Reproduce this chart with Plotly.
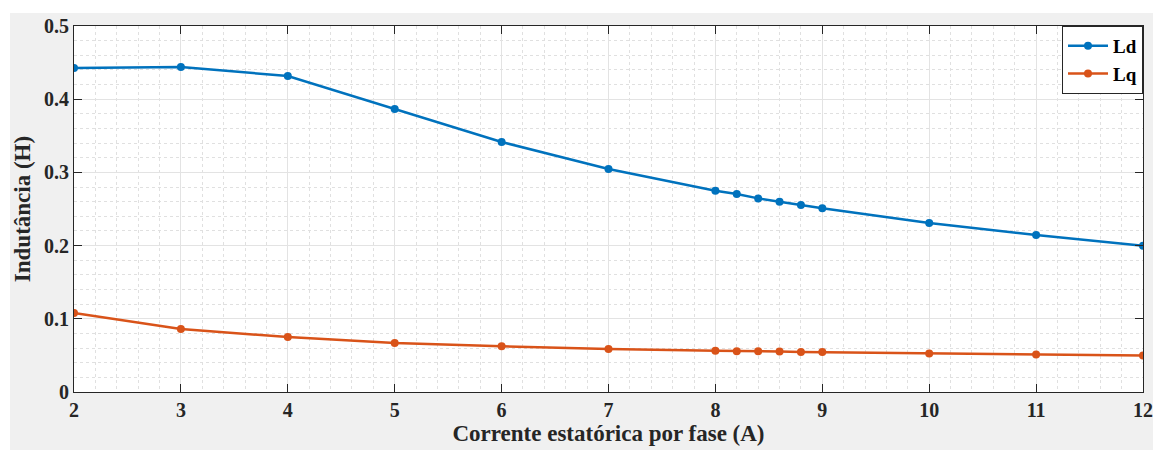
import plotly.graph_objects as go

corrente = [2, 3, 4, 5, 6, 7, 8, 8.2, 8.4, 8.6, 8.8, 9, 10, 11, 12]
Ld = [0.4426, 0.4440, 0.4317, 0.3866, 0.3415, 0.3046, 0.2750, 0.2705, 0.2645, 0.2600, 0.2555, 0.2510, 0.2310, 0.2145, 0.1997]
Lq = [0.1080, 0.0860, 0.0750, 0.0670, 0.0625, 0.0588, 0.0565, 0.0558, 0.0555, 0.0552, 0.0548, 0.0545, 0.0527, 0.0512, 0.0499]
x_ticks = [2, 3, 4, 5, 6, 7, 8, 9, 10, 11, 12]
y_ticks = [0, 0.1, 0.2, 0.3, 0.4, 0.5]
y_labels = ["0", "0.1", "0.2", "0.3", "0.4", "0.5"]

FONT = "Liberation Serif"
fig = go.Figure()
fig.add_trace(go.Scatter(x=corrente, y=Ld, mode="lines+markers", name="<b>Ld</b>",
                         line=dict(color="#0072BD", width=2.5), marker=dict(size=8, color="#0072BD")))
fig.add_trace(go.Scatter(x=corrente, y=Lq, mode="lines+markers", name="<b>Lq</b>",
                         line=dict(color="#D95319", width=2.5), marker=dict(size=8, color="#D95319")))

W, H = 1153, 450
L, R, T, B = 74, 10, 26, 58
pw, ph = W - L - R, H - T - B

axis_common = dict(showline=True, linecolor="#262626", linewidth=1.2, mirror="ticks",
                   ticks="inside", ticklen=8, tickcolor="#262626", tickwidth=1.2,
                   showgrid=True, gridcolor="#e3e3e3", gridwidth=1, zeroline=False,
                   tickfont=dict(family=FONT, size=20, color="#262626"))

fig.update_xaxes(range=[2, 12], tickvals=x_ticks, ticktext=[f"<b>{v}</b>" for v in x_ticks],
                 title=dict(text="<b>Corrente estatórica por fase (A)</b>", font=dict(family=FONT, size=23, color="#262626"), standoff=2),
                 minor=dict(dtick=0.2, showgrid=True, griddash="3px,3px", gridcolor="#e0e0e0", gridwidth=1, ticks=""),
                 **axis_common)
fig.update_yaxes(range=[0, 0.5], tickvals=y_ticks, ticktext=[f"<b>{v}</b>" for v in y_labels],
                 title=dict(text="<b>Indutância (H)</b>", font=dict(family=FONT, size=23, color="#262626"), standoff=6),
                 minor=dict(dtick=0.02, showgrid=True, griddash="3px,3px", gridcolor="#e0e0e0", gridwidth=1, ticks=""),
                 **axis_common)

# white strips outside the grey figure area
fig.add_shape(type="rect", xref="paper", yref="paper", x0=-L / pw, x1=1 + R / pw,
              y0=1 + (T - 13) / ph, y1=1 + T / ph, fillcolor="white", line_width=0, layer="below")
fig.add_shape(type="rect", xref="paper", yref="paper", x0=-L / pw, x1=-(L - 10) / pw,
              y0=-B / ph, y1=1 + T / ph, fillcolor="white", line_width=0, layer="below")

fig.update_layout(width=W, height=H, margin=dict(l=L, r=R, t=T, b=B, autoexpand=False),
                  paper_bgcolor="#f0f0f0", plot_bgcolor="white",
                  showlegend=True,
                  legend=dict(x=1, y=1, xanchor="right", yanchor="top", bgcolor="white",
                              bordercolor="#262626", borderwidth=1,
                              font=dict(family=FONT, size=19, color="#000000"),
                              itemwidth=40, tracegroupgap=0))
fig.write_html("out.html", config={"displayModeBar": False},
               post_script="document.body.style.margin='0';document.body.style.overflow='hidden';")
